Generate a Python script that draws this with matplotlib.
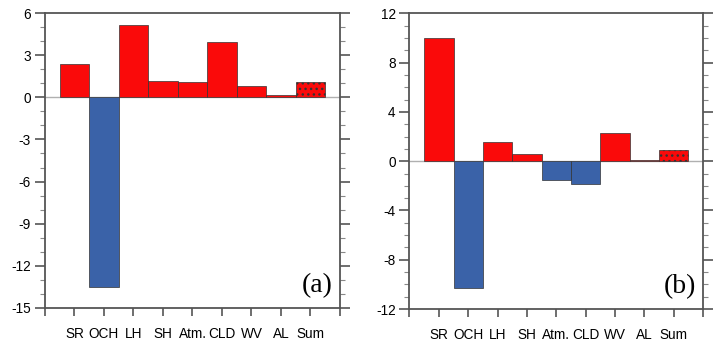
import matplotlib
matplotlib.use("Agg")
import matplotlib.pyplot as plt
from matplotlib.ticker import MultipleLocator

plt.rcParams['font.family'] = ['Liberation Sans', 'DejaVu Sans']
plt.rcParams['axes.unicode_minus'] = False
plt.rcParams['hatch.linewidth'] = 1.0

categories = ["SR", "OCH", "LH", "SH", "Atm.", "CLD", "WV", "AL", "Sum"]
values_a = [2.39, -13.53, 5.12, 1.16, 1.09, 3.91, 0.83, 0.17, 1.11]
values_b = [9.97, -10.32, 1.57, 0.62, -1.51, -1.84, 2.27, 0.08, 0.92]

RED = "#fa0a0a"
BLUE = "#3a62a8"
SPINE = "#555555"

fig = plt.figure(figsize=(7.13, 3.41), dpi=100)
ax_a = fig.add_axes([0.0631, 0.0968, 0.4137, 0.865])
ax_b = fig.add_axes([0.5743, 0.0938, 0.4117, 0.867])

def draw(ax, vals, ylim, major, label):
    x = list(range(1, len(vals) + 1))
    ax.axhline(0, color="#b0b0b0", lw=1.0, zorder=1)
    for xi, v, c in zip(x, vals, categories):
        col = RED if v >= 0 else BLUE
        hatch = "..." if c == "Sum" else None
        ax.bar(xi, v, width=1.0, color=col, edgecolor="#333333", lw=0.5,
               hatch=hatch, zorder=2)
    ax.set_xlim(0, 10)
    ax.set_ylim(*ylim)
    ax.set_xticks(range(0, 11))
    ax.set_xticklabels([""] + categories + [""], fontsize=9.8)
    ax.yaxis.set_major_locator(MultipleLocator(major))
    ax.yaxis.set_minor_locator(MultipleLocator(1))
    ax.tick_params(axis="y", which="major", direction="out", length=7,
                   width=1.2, color=SPINE, labelsize=9.8, left=True, right=True,
                   labelleft=True, labelright=False, pad=3)
    ax.tick_params(axis="y", which="minor", direction="out", length=3.5,
                   width=0.8, color="#888888", left=True, right=True)
    ax.tick_params(axis="x", which="major", direction="out", length=6,
                   width=1.2, color=SPINE, labelsize=9.8, top=False, pad=8)
    for s in ax.spines.values():
        s.set_color(SPINE)
        s.set_linewidth(1.3)
    ax.text(0.976, 0.035, label, transform=ax.transAxes, ha="right", va="bottom",
            fontsize=20, family=["Liberation Serif", "DejaVu Serif"])

draw(ax_a, values_a, (-15, 6), 3, "(a)")
draw(ax_b, values_b, (-12, 12), 4, "(b)")

fig.savefig("out.png", dpi=100)
